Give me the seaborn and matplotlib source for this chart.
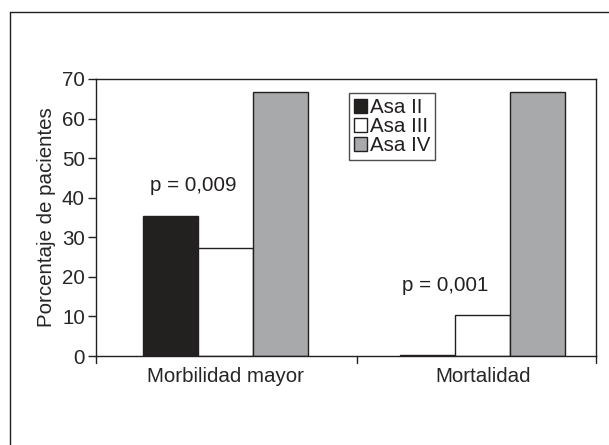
import matplotlib
matplotlib.use("Agg")
import matplotlib.pyplot as plt
import seaborn as sns
import pandas as pd
from matplotlib.lines import Line2D

# datos
categorias = ["Morbilidad mayor", "Mortalidad"]
grupos = ["Asa II", "Asa III", "Asa IV"]
asa_ii = [35.4, 0.3]
asa_iii = [27.3, 10.3]
asa_iv = [66.7, 66.7]
p_valores = ["p = 0,009", "p = 0,001"]

sns.set_style("white")
plt.rcParams['font.family'] = ['Liberation Sans', 'DejaVu Sans']
plt.rcParams['text.color'] = '#231f20'
FS = 14.8

df = pd.DataFrame({
    'categoria': categorias * 3,
    'grupo': [g for g in grupos for _ in categorias],
    'valor': asa_ii + asa_iii + asa_iv,
})

fig = plt.figure(figsize=(6.09, 4.45), dpi=100)
ax = fig.add_axes([96 / 609, 89 / 445, 500 / 609, 277 / 445])

colores = {'Asa II': '#231f20', 'Asa III': '#ffffff', 'Asa IV': '#a7a9ac'}
sns.barplot(data=df, x='categoria', y='valor', hue='grupo', order=categorias,
            hue_order=grupos, palette=colores, width=0.642, edgecolor='#231f20',
            linewidth=1.0, ax=ax, legend=True)

ax.set_ylim(0, 70)
ax.set_yticks(range(0, 71, 10))
ax.set_xlim(-0.505, 1.44)
ax.set_xticks([0, 1])
ax.set_xticklabels(categorias, fontsize=FS)
ax.tick_params(axis='x', length=0, pad=8)
ax.tick_params(axis='y', direction='out', length=6, width=1, color='#231f20',
               labelsize=FS, pad=2, left=True)
# marcas separadoras del eje x
for xb in [-0.505, 0.51, 1.44]:
    ax.add_line(Line2D([xb, xb], [0, -0.025], transform=ax.get_xaxis_transform(),
                       color='#231f20', lw=1, clip_on=False))
ax.set_xlabel('')
ax.set_ylabel('Porcentaje de pacientes', fontsize=FS, labelpad=4)
for s in ax.spines.values():
    s.set_color('#231f20')
    s.set_linewidth(1)

# anotaciones p
ax.text(-0.126, 43.2, p_valores[0], ha='center', va='center', fontsize=FS)
ax.text(0.854, 17.9, p_valores[1], ha='center', va='center', fontsize=FS)

handles, labels = ax.get_legend_handles_labels()
leg = ax.legend(handles, labels, loc='upper left', bbox_to_anchor=(0.506, 0.949),
                borderaxespad=0, fontsize=FS, frameon=True, fancybox=False,
                edgecolor='#231f20', handlelength=0.62, handleheight=0.62,
                handletextpad=0.15, labelspacing=0.0, borderpad=0.25)
leg.get_frame().set_linewidth(1)

# marco exterior (solo izquierda y arriba visibles)
fig.add_artist(Line2D([10 / 609, 10 / 609], [0, 1 - 12 / 445], color='#231f20', lw=1))
fig.add_artist(Line2D([10 / 609, 1], [1 - 12 / 445, 1 - 12 / 445], color='#231f20', lw=1))

fig.savefig('out.png', dpi=100)
